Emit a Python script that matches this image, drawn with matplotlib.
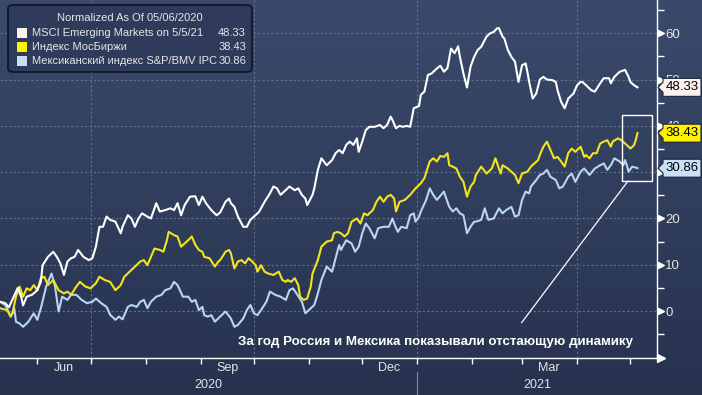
import matplotlib
matplotlib.use("agg")
import matplotlib.pyplot as plt
import matplotlib.dates as mdates
import matplotlib.patches as mpatches
import matplotlib.transforms as mtransforms
from matplotlib.colors import LinearSegmentedColormap
import numpy as np
import pandas as pd

plt.rcParams["font.family"] = ["Liberation Sans", "DejaVu Sans"]

# ---- data (days counted from start_date) ----
start_date = "2020-05-11"

msci_days = [0, 3, 5, 7, 10, 12, 13, 15, 18, 21,
             23, 24, 27, 30, 32, 34, 36, 38, 40, 42,
             44, 47, 50, 52, 54, 56, 58, 60, 62, 65,
             68, 69, 72, 74, 76, 78, 80, 83, 85, 88,
             90, 93, 96, 98, 100, 102, 104, 107, 110, 112,
             114, 116, 119, 122, 124, 127, 129, 130, 132, 134,
             137, 139, 141, 143, 145, 146, 149, 152, 154, 156,
             158, 160, 163, 166, 168, 170, 172, 173, 176, 177,
             179, 181, 184, 187, 189, 191, 193, 195, 197, 199,
             201, 202, 204, 206, 208, 211, 214, 216, 218, 220,
             221, 223, 225, 227, 229, 231, 233, 236, 237, 239,
             241, 243, 246, 248, 250, 252, 254, 256, 258, 259,
             261, 263, 265, 267, 269, 271, 274, 276, 278, 280,
             281, 283, 284, 286, 288, 290, 292, 294, 296, 297,
             298, 300, 302, 304, 306, 308, 311, 313, 314, 316,
             318, 320, 323, 325, 327, 328, 330, 333, 335, 338,
             340, 343, 344, 346, 349, 352, 354, 355, 357, 359]
msci_values = [2.0, 1.7, 0.8, 2.5, 5.0, 3.0, 1.2, 3.1, 3.5, 4.5,
               6.3, 9.9, 11.7, 12.8, 11.7, 10.3, 7.8, 10.7, 11.4, 11.7,
               13.2, 11.7, 11.0, 11.4, 13.9, 18.2, 18.2, 20.4, 19.7, 19.3,
               16.8, 18.2, 20.7, 20.0, 18.2, 20.0, 21.1, 20.4, 20.0, 23.3,
               21.5, 21.8, 22.2, 21.8, 23.3, 20.7, 22.9, 24.7, 24.8, 22.9,
               24.7, 23.3, 21.8, 20.7, 21.3, 23.6, 24.3, 23.3, 22.5, 20.4,
               18.2, 18.2, 19.7, 20.4, 21.1, 21.5, 23.6, 25.4, 26.9, 26.5,
               25.1, 25.8, 26.9, 26.1, 26.5, 25.1, 24.3, 22.9, 25.1, 26.5,
               30.5, 33.0, 31.5, 32.6, 34.1, 34.8, 34.1, 35.9, 36.6, 35.9,
               37.3, 34.4, 36.6, 39.1, 39.8, 39.8, 40.2, 39.5, 40.2, 42.0,
               41.3, 39.5, 40.0, 39.8, 40.0, 39.8, 43.8, 44.3, 46.7, 47.4,
               51.0, 51.3, 52.4, 53.0, 51.7, 52.5, 56.7, 55.7, 57.2, 54.9,
               51.3, 48.3, 52.8, 54.9, 56.4, 57.1, 59.3, 60.0, 60.3, 61.1,
               61.1, 59.3, 58.9, 56.4, 54.9, 53.9, 49.5, 53.1, 53.5, 51.7,
               49.5, 45.9, 47.0, 50.0, 50.6, 50.0, 49.9, 49.5, 47.7, 45.2,
               43.8, 45.9, 47.0, 48.8, 49.5, 49.5, 48.8, 47.7, 47.4, 49.2,
               50.3, 50.3, 49.2, 50.6, 51.7, 52.1, 50.6, 49.5, 48.8, 48.33]

moex_days = [0, 4, 6, 7, 9, 11, 13, 15, 17, 19,
             21, 23, 25, 27, 30, 33, 36, 38, 40, 43,
             45, 48, 51, 54, 56, 59, 62, 65, 68, 70,
             73, 76, 79, 81, 83, 85, 87, 90, 92, 94,
             95, 98, 100, 102, 104, 106, 108, 110, 112, 114,
             115, 118, 121, 123, 124, 127, 129, 130, 132, 134,
             136, 138, 140, 142, 144, 145, 147, 149, 151, 154,
             157, 159, 161, 162, 164, 166, 168, 169, 171, 173,
             175, 176, 179, 181, 184, 187, 188, 190, 192, 194,
             196, 198, 201, 203, 205, 207, 208, 210, 212, 214,
             216, 218, 220, 222, 223, 225, 228, 231, 234, 237,
             239, 242, 244, 246, 248, 250, 252, 253, 255, 257,
             259, 261, 263, 265, 267, 268, 271, 274, 277, 279,
             282, 283, 286, 288, 290, 292, 294, 297, 299, 301,
             303, 304, 306, 308, 310, 312, 314, 316, 318, 320,
             322, 324, 327, 329, 330, 332, 334, 336, 338, 340,
             342, 344, 345, 348, 350, 352, 354, 355, 357, 358, 359]
moex_values = [0.6, 0.2, -1.2, -0.5, 3.1, 5.3, 3.1, 4.9, 4.5, 5.6,
               4.5, 7.1, 7.4, 5.6, 6.7, 4.5, 3.8, 4.2, 3.5, 5.3,
               6.3, 5.3, 4.9, 6.0, 7.4, 6.7, 6.3, 4.5, 5.6, 7.4,
               8.5, 9.6, 10.7, 11.0, 9.9, 11.7, 13.5, 13.2, 12.8, 15.3,
               17.1, 16.4, 16.1, 13.9, 14.6, 15.3, 16.1, 14.3, 13.2, 12.8,
               11.7, 11.4, 9.6, 10.7, 11.0, 12.8, 13.2, 12.5, 9.2, 10.7,
               11.0, 10.3, 11.4, 10.7, 9.9, 8.5, 9.9, 8.5, 8.1, 7.8,
               8.5, 6.7, 6.3, 6.7, 6.3, 7.1, 5.6, 3.1, 2.4, 2.7,
               5.3, 8.1, 11.0, 13.9, 15.0, 15.3, 16.8, 17.1, 16.8, 16.1,
               16.8, 19.3, 20.0, 18.9, 21.1, 20.7, 21.1, 21.8, 23.6, 24.7,
               23.6, 24.7, 25.1, 24.3, 21.5, 23.6, 24.0, 25.1, 26.5, 27.6,
               28.7, 32.3, 33.0, 32.3, 33.5, 33.3, 34.1, 31.5, 31.2, 30.8,
               29.0, 27.9, 24.7, 26.9, 27.9, 29.4, 31.2, 29.7, 30.8, 33.0,
               29.7, 31.5, 30.8, 30.1, 29.4, 27.6, 29.7, 30.1, 31.2, 31.9,
               32.6, 33.7, 35.5, 36.6, 34.8, 33.0, 33.3, 32.3, 31.2, 34.1,
               35.1, 34.4, 35.5, 33.3, 33.7, 33.0, 34.1, 34.1, 36.2, 36.6,
               36.9, 35.5, 36.6, 37.3, 36.9, 36.2, 35.5, 35.1, 35.8, 36.9, 38.43]

mex_days = [0, 3, 6, 7, 8, 9, 11, 13, 16, 19,
            21, 23, 26, 29, 31, 33, 35, 38, 40, 43,
            46, 49, 52, 54, 57, 60, 62, 65, 67, 69,
            72, 74, 77, 79, 81, 83, 85, 88, 91, 93,
            96, 98, 100, 103, 106, 108, 110, 112, 114, 115,
            117, 119, 121, 124, 127, 130, 132, 134, 137, 139,
            141, 143, 145, 147, 150, 152, 155, 158, 161, 163,
            165, 167, 170, 172, 175, 177, 179, 181, 184, 187,
            189, 191, 192, 195, 198, 200, 202, 204, 206, 208,
            211, 213, 216, 219, 221, 222, 224, 226, 229, 231,
            233, 234, 236, 237, 240, 242, 244, 246, 248, 250,
            252, 253, 255, 257, 259, 261, 263, 265, 267, 268,
            271, 273, 275, 278, 281, 283, 285, 288, 290, 292,
            294, 296, 298, 299, 302, 304, 306, 308, 310, 313,
            315, 317, 320, 322, 324, 327, 329, 332, 335, 338,
            340, 342, 344, 346, 349, 351, 352, 353, 354, 356, 358, 359]
mex_values = [2.0, 1.3, -1.2, -0.5, 0.6, -2.3, -2.7, -3.4, -2.3, -0.5,
              -1.9, 0.6, 5.3, 8.1, 5.3, -0.1, 3.1, 2.4, 3.5, 3.5,
              2.4, 1.7, 2.0, 2.7, 1.7, 0.9, -0.8, -1.9, -1.2, -1.8,
              0.9, 1.3, 0.9, 2.0, 2.4, 0.6, 2.0, 3.1, 3.5, 4.5,
              4.9, 6.3, 5.6, 3.1, 3.1, 2.0, 2.4, 0.2, 0.9, -0.9,
              -1.2, -0.9, -2.3, -1.2, -0.1, -1.6, -3.4, -3.0, -1.6, 0.2,
              1.3, -0.5, -0.9, 0.2, 2.0, 4.2, 3.5, 3.1, 2.4, 4.5,
              4.9, 3.8, 2.0, -0.5, 0.6, 1.3, 3.8, 6.7, 9.6, 8.5,
              11.4, 14.3, 13.2, 15.3, 14.6, 12.8, 13.9, 16.8, 18.9, 17.9,
              15.7, 17.9, 18.2, 18.2, 20.0, 18.9, 17.1, 18.2, 17.9, 20.7,
              21.1, 19.3, 20.4, 21.5, 24.0, 26.5, 25.1, 24.0, 24.9, 25.8,
              23.6, 22.5, 21.5, 22.2, 21.1, 20.7, 16.8, 18.2, 19.3, 19.3,
              19.7, 22.2, 19.7, 20.0, 22.2, 21.1, 21.8, 22.5, 20.4, 20.7,
              24.0, 25.8, 25.4, 26.9, 28.3, 29.4, 29.7, 30.5, 29.0, 28.3,
              26.5, 26.9, 29.0, 29.7, 27.9, 30.1, 30.8, 29.4, 30.8, 31.5,
              31.9, 30.5, 31.5, 33.0, 32.3, 31.5, 32.6, 31.5, 30.1, 31.2, 31.0, 30.86]

legend_title = "Normalized As Of 05/06/2020"
series_names = ["MSCI Emerging Markets on 5/5/21", "Индекс МосБиржи",
                "Мексиканский индекс S&P/BMV IPC"]
last_values = [48.33, 38.43, 30.86]
y_ticks = [0, 10, 20, 30, 40, 50, 60]
month_labels = ["Jun", "Sep", "Dec", "Mar"]
month_label_dates = ["2020-06-16", "2020-09-16", "2020-12-16", "2021-03-16"]
quarter_starts = ["2020-07-01", "2020-10-01", "2021-01-01", "2021-04-01"]
year_labels = ["2020", "2021"]
note_text = "За год Россия и Мексика показывали отстающую динамику"

line_colors = ["#ffffff", "#f3e51c", "#b8d5f3"]
box_colors = ["#fdf2ee", "#fff200", "#c9e0f8"]

W, H = 702, 395
start = pd.Timestamp(start_date)
x_end = pd.Timestamp("2021-05-16")
new_year = pd.Timestamp("2021-01-01")


def to_dates(days):
    return start + pd.to_timedelta(days, unit="D")


def fig_xy(px, py):
    return px / W, 1 - py / H


fig = plt.figure(figsize=(W / 100, H / 100), dpi=100)

# gradient background
bg = fig.add_axes([0, 0, 1, 1], zorder=-10)
grad = np.linspace(0, 1, 256).reshape(-1, 1)
bg.imshow(grad, aspect="auto", extent=[0, 1, 0, 1], origin="upper",
          cmap=LinearSegmentedColormap.from_list("bbg", ["#3b4a6b", "#26324e"]))
bg.axis("off")

ax = fig.add_axes([0, 1 - 358 / H, 657 / W, 358 / H])
ax.patch.set_visible(False)

ax.plot(to_dates(mex_days), mex_values, color=line_colors[2], lw=1.5, zorder=3)
ax.plot(to_dates(moex_days), moex_values, color=line_colors[1], lw=1.5, zorder=4)
ax.plot(to_dates(msci_days), msci_values, color=line_colors[0], lw=1.5, zorder=5)

ax.set_xlim(start, x_end)
ax.set_ylim(-10.15, 67.2)

# grid
for v in y_ticks:
    ax.axhline(v, color="#5f6f92", lw=0.8, ls=(0, (2, 2)), zorder=1)
for d in quarter_starts:
    ax.axvline(pd.Timestamp(d), color="#5f6f92", lw=0.8, ls=(0, (2, 2)), zorder=1)

# spines
for s in ["left", "top"]:
    ax.spines[s].set_visible(False)
for s in ["right", "bottom"]:
    ax.spines[s].set_color("white")
    ax.spines[s].set_linewidth(1)

# y axis on the right
ax.yaxis.tick_right()
ax.set_yticks(y_ticks)
ax.set_yticks(np.arange(-5, 66, 10), minor=True)
ax.tick_params(axis="y", which="major", length=0, pad=6, labelsize=9.5,
               labelcolor="#e4e4e4")
ax.tick_params(axis="y", which="minor", direction="out", length=5, width=1,
               color="white")
shift = mtransforms.ScaledTranslation(0.04, 0, fig.dpi_scale_trans)
ytrans = mtransforms.blended_transform_factory(ax.transAxes, ax.transData)
ax.plot([1.0] * len(y_ticks), y_ticks, ls="none", marker=">", ms=5,
        color="white", transform=ytrans + shift, clip_on=False)
ax.plot([1.0], [0.0], ls="none", marker=">", ms=6, color="white",
        transform=ax.transAxes + shift, clip_on=False)

# x axis
ax.xaxis.set_major_locator(mdates.MonthLocator())
ax.tick_params(axis="x", which="major", direction="out", length=4, width=1,
               color="white", labelbottom=False)
xtrans = ax.get_xaxis_transform()
for lab, d in zip(month_labels, month_label_dates):
    ax.text(pd.Timestamp(d), -10 / 358, lab, transform=xtrans, ha="center",
            va="center", fontsize=9, color="#e4e4e4")
ax.text(start + (new_year - start) / 2, -27 / 358, year_labels[0],
        transform=xtrans, ha="center", va="center", fontsize=9, color="#e4e4e4")
ax.text(new_year + (x_end - new_year) / 2, -27 / 358, year_labels[1],
        transform=xtrans, ha="center", va="center", fontsize=9, color="#e4e4e4")
ax.plot([new_year, new_year], [-14 / 358, -37 / 358], color="#7d8aa6", lw=0.8,
        transform=xtrans, clip_on=False)

# highlight box and pointer
ax.add_patch(mpatches.Rectangle((to_dates(350.5), 28.1), pd.Timedelta(days=16.5),
                                14.2, fill=False, edgecolor="white", lw=1,
                                zorder=6))
ax.plot([to_dates(353.7), to_dates(293.8)], [28.1, -2.5], color="white",
        lw=0.9, zorder=6)
ax.text(*fig_xy(435, 342), note_text, transform=fig.transFigure, ha="center",
        va="center", fontsize=9.6, fontweight="bold", color="white", zorder=7)

# last value tags
ident = mtransforms.IdentityTransform()
for val, col in zip(last_values, box_colors):
    yc = ytrans.transform((1.0, val))[1]
    pts = [(658, yc), (663, yc + 5), (663, yc + 9), (701, yc + 9),
           (701, yc - 9), (663, yc - 9), (663, yc - 5)]
    fig.add_artist(mpatches.Polygon(pts, closed=True, transform=ident,
                                    facecolor=col, edgecolor="#1c2236",
                                    lw=0.8, zorder=10))
    fig.text(682, yc, f"{val:.2f}", transform=ident, ha="center", va="center",
             fontsize=9.5, color="black", zorder=11)

# legend
lx, ly = fig_xy(8, 72)
fig.add_artist(mpatches.FancyBboxPatch((lx, ly), 244 / W, 67 / H,
                                       boxstyle="round,pad=0,rounding_size=0.008",
                                       transform=fig.transFigure,
                                       facecolor="#2e3b5a", edgecolor="#10141f",
                                       lw=1.2, zorder=8))
fig.text(*fig_xy(130, 18), legend_title, ha="center", va="center",
         fontsize=8, color="#e6e6e6", zorder=9)
for i, (name, val, col) in enumerate(zip(series_names, last_values, box_colors)):
    row = 33 + 14 * i
    sx, sy = fig_xy(17, row + 5)
    fig.add_artist(mpatches.Rectangle((sx, sy), 10 / W, 10 / H,
                                      transform=fig.transFigure,
                                      facecolor=col, edgecolor="none", zorder=9))
    fig.text(*fig_xy(32, row), name, ha="left", va="center", fontsize=8,
             color="#e6e6e6", zorder=9)
    fig.text(*fig_xy(246, row), f"{val:.2f}", ha="right", va="center",
             fontsize=8, color="#e6e6e6", zorder=9)

fig.savefig("out.png", dpi=100)
